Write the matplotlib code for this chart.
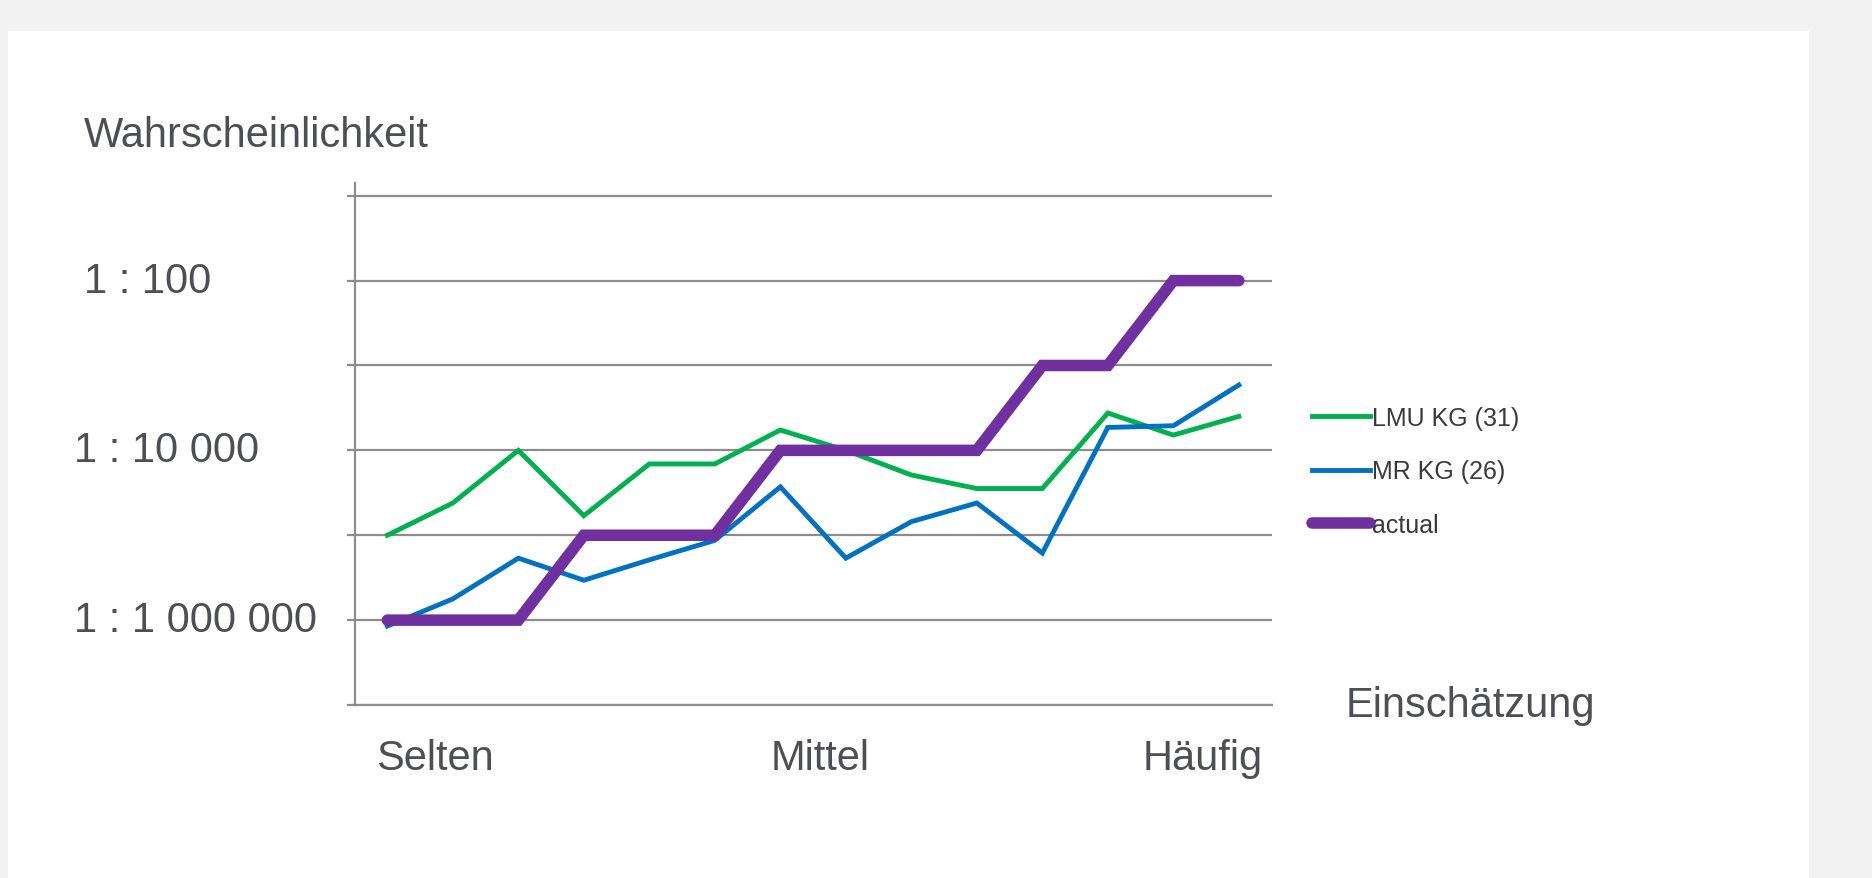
import numpy as np
import matplotlib.pyplot as plt
from matplotlib.patches import Rectangle

plt.rcParams['font.family'] = ['Liberation Sans', 'DejaVu Sans']

# 14 assessment steps from "Selten" to "Häufig"; y values are log10 of probability
steps = np.arange(14)
lmu_kg = [-5.0, -4.62, -4.0, -4.77, -4.16, -4.16, -3.76, -4.0, -4.29, -4.45, -4.45, -3.56, -3.82, -3.6]
mr_kg = [-6.07, -5.75, -5.27, -5.53, -5.29, -5.06, -4.43, -5.27, -4.84, -4.62, -5.21, -3.73, -3.71, -3.23]
actual = [-6, -6, -6, -5, -5, -5, -4, -4, -4, -4, -3, -3, -2, -2]

series_labels = ['LMU KG (31)', 'MR KG (26)', 'actual']
y_levels = [-2, -4, -6]
y_texts = ['1 : 100', '1 : 10 000', '1 : 1 000 000']
x_texts = ['Selten', 'Mittel', 'Häufig']

# label placement (layout only)
y_text_px = [84, 74, 74]
x_text_pos = [0.72, 6.6, 12.45]

text_col = '#4d4f54'
grid_col = '#8c8c8c'

fig = plt.figure(figsize=(18.72, 8.79), dpi=100, facecolor='#f2f2f2')
fig.patches.append(Rectangle((8 / 1872, 0), 1801 / 1872, 847 / 879,
                             transform=fig.transFigure, facecolor='white',
                             edgecolor='none', zorder=-10))

ax = fig.add_axes([354.6 / 1872, 173 / 879, 917 / 1872, 522 / 879])
ax.set_facecolor('none')

ax.plot(steps, lmu_kg, color='#00b050', lw=3.5, label=series_labels[0],
        solid_joinstyle='miter', zorder=3)
ax.plot(steps, mr_kg, color='#0070c0', lw=3.5, label=series_labels[1],
        solid_joinstyle='miter', zorder=3)
ax.plot(steps, actual, color='#7030a0', lw=8.3, label=series_labels[2],
        solid_capstyle='round', solid_joinstyle='miter', zorder=4)

ax.set_xlim(-0.5, 13.5)
ax.set_ylim(-7, -0.85)
ax.set_yticks(np.arange(-7, 0))
ax.set_yticklabels([])
ax.set_xticks([])
ax.grid(axis='y', color=grid_col, lw=1.6)
ax.set_axisbelow(True)
ax.tick_params(axis='y', length=6, width=1.6, color=grid_col)
for side in ['top', 'right']:
    ax.spines[side].set_visible(False)
ax.spines['left'].set_color(grid_col)
ax.spines['left'].set_linewidth(1.6)
ax.spines['bottom'].set_color(grid_col)
ax.spines['bottom'].set_linewidth(1.6)

# y labels written as probabilities
for lvl, txt, px in zip(y_levels, y_texts, y_text_px):
    yf = ax.transData.transform((0, lvl))[1] / fig.bbox.height
    fig.text(px / 1872, yf, txt, ha='left', va='center', fontsize=30, color=text_col)

for pos, txt in zip(x_text_pos, x_texts):
    ax.text(pos, -7.62, txt, ha='center', va='center', fontsize=30, color=text_col)

fig.text(84 / 1872, 1 - 136 / 879, 'Wahrscheinlichkeit', ha='left', va='center',
         fontsize=30, color=text_col)
fig.text(1346 / 1872, 1 - 706 / 879, 'Einschätzung', ha='left', va='center',
         fontsize=30, color=text_col)

leg = ax.legend(loc='upper left', bbox_to_anchor=(1312 / 1872, 1 - 407 / 879),
                bbox_transform=fig.transFigure, frameon=False, fontsize=18,
                handlelength=2.3, handletextpad=0.1, labelspacing=1.18,
                borderpad=0, borderaxespad=0)
for t in leg.get_texts():
    t.set_color('#3a3a3a')

fig.savefig('out.png', dpi=100, facecolor=fig.get_facecolor())
